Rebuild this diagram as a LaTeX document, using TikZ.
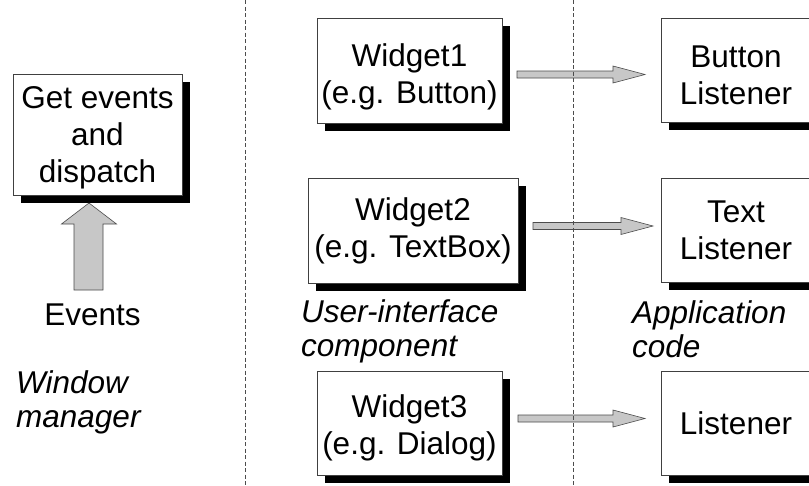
\documentclass[tikz,border=0pt]{standalone}
\usepackage{fontspec}
\setmainfont{Liberation Sans}
\usetikzlibrary{arrows.meta,shadows,backgrounds,calc}
\newcommand{\blockarr}[2]{\path[blk] let \p1=(#1), \p2=(#2) in
  (\x1,\y1+3.5pt) -- (\x2-32pt,\y1+3.5pt) -- (\x2-32pt,\y1+8.5pt) -- (\x2,\y1)
  -- (\x2-32pt,\y1-8.5pt) -- (\x2-32pt,\y1-3.5pt) -- (\x1,\y1-3.5pt) -- cycle;}
\newcommand{\lift}[1]{\rule{0pt}{#1}}
\begin{document}
\begin{tikzpicture}[x=1pt,y=-1pt,
  box/.style={draw=black!75, line width=0.8pt, fill=white, align=center, inner sep=2pt,
     drop shadow={shadow xshift=8pt, shadow yshift=-8pt, fill=black, opacity=1},
     font=\fontsize{31.5}{37}\selectfont},
  lbl/.style={font=\fontsize{31.5}{34}\selectfont\itshape, align=left, anchor=north west, inner sep=0pt},
  conn/.style={line width=0.8pt, -{Triangle[length=12pt,width=9pt]}},
  blk/.style={draw=black!70, line width=0.6pt, fill=black!22},
  sep/.style={draw=black!70, line width=0.7pt, dash pattern=on 4pt off 2.5pt}
]
\useasboundingbox (0,0) rectangle (809,485);
\clip (0,0) rectangle (809,485);
\fill[white] (0,0) rectangle (809,485);

% boxes
\node[box, minimum width=169pt, minimum height=121pt] (ge) at (97.5,134.5) {\lift{29pt}Get events\\and\\dispatch};
\node[box, minimum width=185pt, minimum height=105pt] (w1) at (409.5,70.5) {\lift{35pt}Widget1\\(e.g. Button)};
\node[box, minimum width=210pt, minimum height=105pt] (w2) at (413,230.5) {Widget2\\(e.g. TextBox)};
\node[box, minimum width=185pt, minimum height=104pt] (w3) at (409.5,423) {\lift{33pt}Widget3\\(e.g. Dialog)};
\node[box, minimum width=150pt, minimum height=104pt] (b1) at (736,70) {\lift{33pt}Button\\Listener};
\node[box, minimum width=150pt, minimum height=104pt] (b2) at (736,230) {Text\\Listener};
\node[box, minimum width=150pt, minimum height=104pt] (b3) at (736,423) {Listener};

% labels
\node[font=\fontsize{31.5}{34}\selectfont, anchor=base, inner sep=0pt] (ev) at (92.5,325) {Events};
\node[lbl] (wm) at (16,370) {Window\\manager};
\node[lbl] (ui) at (301,299) {User-interface\\component};
\node[lbl] (ac) at (632,300) {Application\\code};

% events block arrow
\path[blk] (74,290) -- (74,224) -- (61.5,224) -- (89,203) -- (116.5,224) -- (103,224) -- (103,290) -- cycle;

% block arrows widget -> listener
\coordinate (a1s) at (517,74.5); \coordinate (a1e) at (645,74.5);
\coordinate (a2s) at (533,226);  \coordinate (a2e) at (653,226);
\coordinate (a3s) at (518,418.5); \coordinate (a3e) at (645,418.5);
\blockarr{a1s}{a1e}
\blockarr{a2s}{a2e}
\blockarr{a3s}{a3e}

% separators
\coordinate (s1t) at (245,0); \coordinate (s1b) at (245,485);
\coordinate (s2t) at (573,0); \coordinate (s2b) at (573,485);
\draw[sep] (s1t) -- (s1b);
\draw[sep] (s2t) -- (s2b);

% dispatch connectors
\coordinate (t1) at (300,83);
\coordinate (t2) at (308,218);
\coordinate (t3) at (308,406);
\begin{scope}[on background layer]
\draw[conn] ($(ge.east)+(0,-5)$) -- (t1);
\draw[conn] ($(ge.east)+(0,-5)$) -- (t2);
\draw[conn] ($(ge.east)+(0,-5)$) -- (t3);
\end{scope}
\end{tikzpicture}
\end{document}
